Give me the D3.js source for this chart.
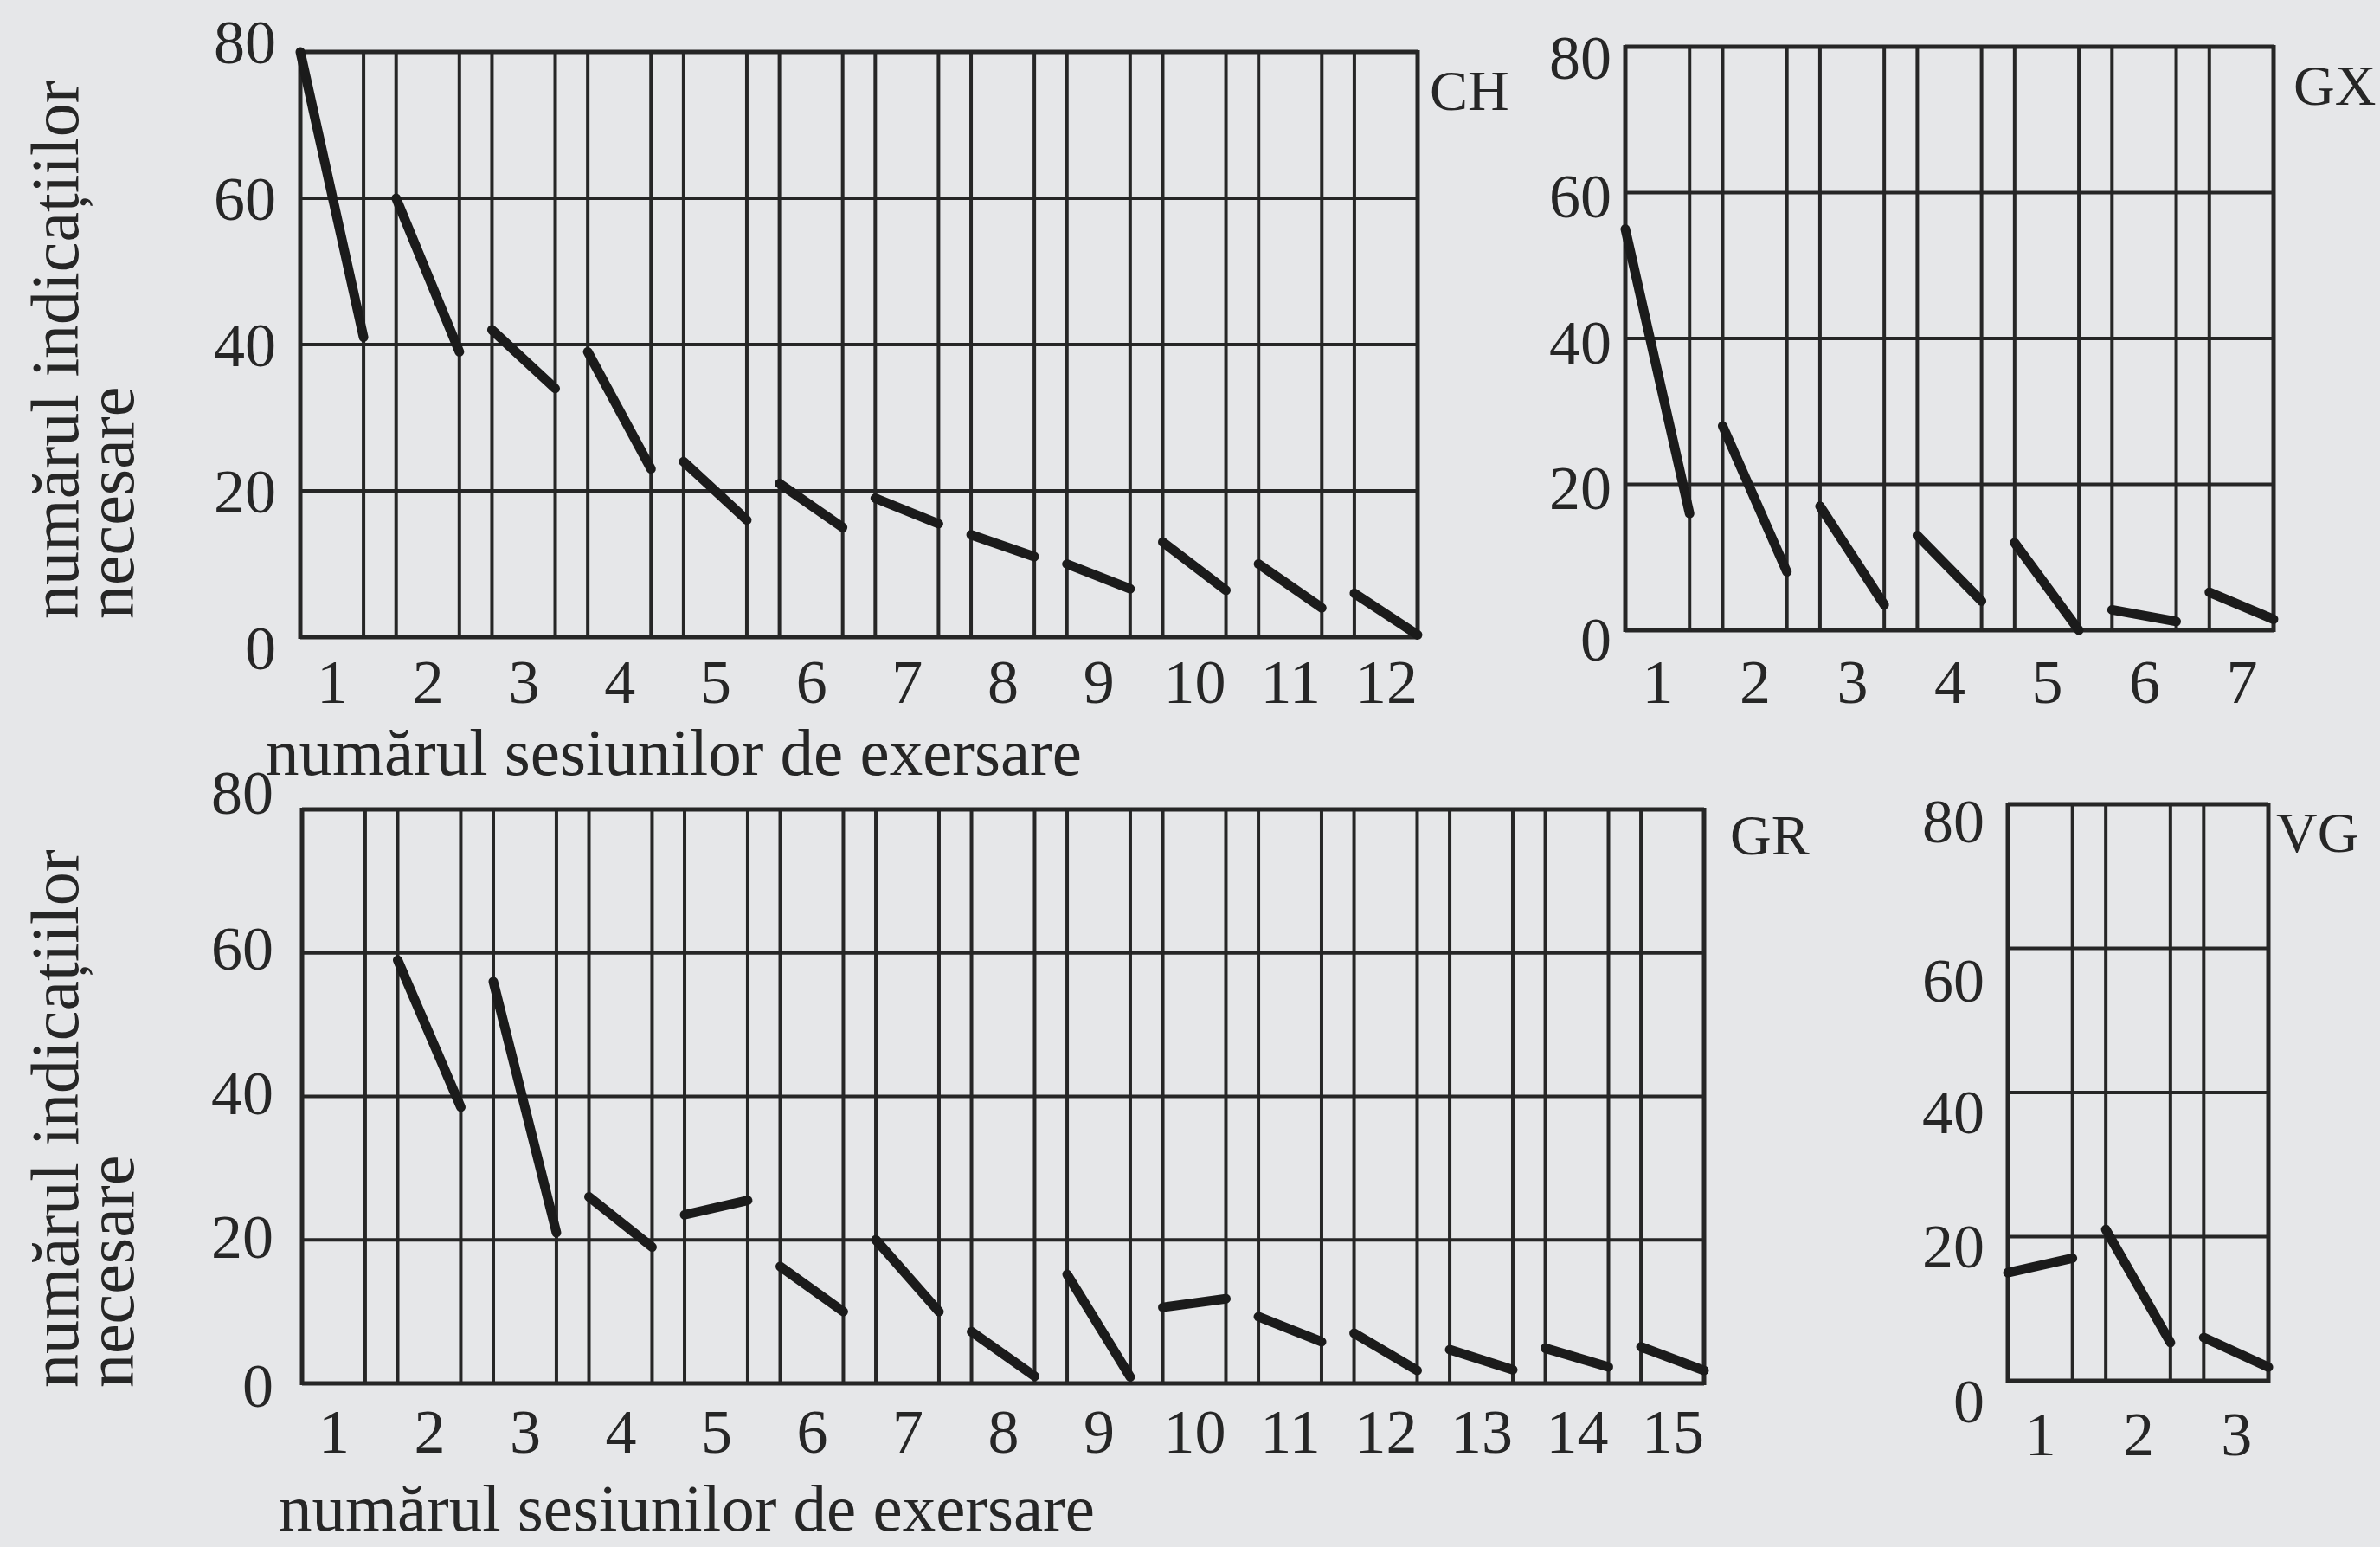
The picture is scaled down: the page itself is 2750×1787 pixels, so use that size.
<!DOCTYPE html>
<html>
<head>
<meta charset="utf-8">
<script src="https://cdn.jsdelivr.net/npm/d3@7"></script>
<style>
  html, body { margin: 0; padding: 0; background: #e6e7e9; }
  svg { display: block; }
</style>
</head>
<body>
<svg id="chart" width="2750" height="1787"></svg>
<script>
// ---------------- DATA ----------------
const yTickValues = [0, 20, 40, 60, 80];

const chSessions = ["1","2","3","4","5","6","7","8","9","10","11","12"];
const chStart = [80, 60, 42, 39, 24, 21, 19, 14, 10, 13, 10, 6];
const chEnd   = [41, 39, 34, 23, 16, 15, 15.5, 11, 6.6, 6.4, 4, 0.3];

const gxSessions = ["1","2","3","4","5","6","7"];
const gxStart = [55, 28, 17, 13, 12, 2.8, 5.2];
const gxEnd   = [16, 8, 3.5, 4, 0, 1.2, 1.5];

const grSessions = ["1","2","3","4","5","6","7","8","9","10","11","12","13","14","15"];
const grStart = [null, 59, 56, 26, 23.5, 16.3, 20, 7.2, 15.2, 10.6, 9.3, 7, 4.7, 4.9, 5.1];
const grEnd   = [null, 38.5, 21, 19, 25.5, 10, 10, 1, 0.9, 11.8, 5.8, 1.8, 1.9, 2.3, 1.8];

const vgSessions = ["1","2","3"];
const vgStart = [15, 21, 6];
const vgEnd   = [17, 5.3, 1.9];

const yTitleLine1 = "numărul indicațiilor";
const yTitleLine2 = "necesare";
const xTitle = "numărul sesiunilor de exersare";

// ---------------- LAYOUT ----------------
const W = 0.66; // fraction of a session slot occupied by the session column
const FONT = "'Liberation Serif', 'Times New Roman', serif";
const INK = "#262626";

const panels = [
  {name: "CH", sessions: chSessions, start: chStart, end: chEnd,
   left: 347, right: 1638, top: 60, bottom: 736, labelX: 1652, labelY: 127, tickGap: 28, tickShift: [12, 0, 0, 0, -12], xLab: 76},
  {name: "GX", sessions: gxSessions, start: gxStart, end: gxEnd,
   left: 1878, right: 2627, top: 54, bottom: 728, labelX: 2650, labelY: 121, tickGap: 16, tickShift: [10, 4, 4, 4, 12], xLab: 84},
  {name: "GR", sessions: grSessions, start: grStart, end: grEnd,
   left: 349, right: 1969, top: 935, bottom: 1598, labelX: 1999, labelY: 987, tickGap: 33, tickShift: [2, -4, -4, -6, -20], xLab: 80},
  {name: "VG", sessions: vgSessions, start: vgStart, end: vgEnd,
   left: 2320, right: 2621, top: 929, bottom: 1595, labelX: 2630, labelY: 984, tickGap: 27, tickShift: [23, 11, 22, 37, 19], xLab: 86}
];

const svg = d3.select("#chart");

panels.forEach(p => {
  const n = p.sessions.length;
  const x = d3.scaleLinear().domain([0, n - 1 + W]).range([p.left, p.right]);
  const y = d3.scaleLinear().domain([0, 80]).range([p.bottom, p.top]);
  const g = svg.append("g");

  // horizontal grid lines
  g.selectAll("line.h").data(yTickValues).enter().append("line")
    .attr("x1", x(0)).attr("x2", x(n - 1 + W))
    .attr("y1", d => y(d)).attr("y2", d => y(d))
    .attr("stroke", INK).attr("stroke-width", d => (d === 0 || d === 80) ? 5 : 4);

  // vertical session boundary lines
  const verts = [];
  for (let i = 0; i < n; i++) { verts.push(i); verts.push(i + W); }
  g.selectAll("line.v").data(verts).enter().append("line")
    .attr("x1", d => x(d)).attr("x2", d => x(d))
    .attr("y1", y(80) - 2).attr("y2", y(0) + 2)
    .attr("stroke", INK)
    .attr("stroke-width", (d, i) => (i === 0 || i === verts.length - 1) ? 5 : 4);

  // data segments
  const segs = p.start.map((s, i) => ({i, s, e: p.end[i]})).filter(d => d.s !== null);
  g.selectAll("line.seg").data(segs).enter().append("line")
    .attr("x1", d => x(d.i)).attr("y1", d => y(d.s))
    .attr("x2", d => x(d.i + W)).attr("y2", d => y(d.e))
    .attr("stroke", "#1b1b1b").attr("stroke-width", 11)
    .attr("stroke-linecap", "round");

  // y axis labels
  const yAxis = d3.axisLeft(y).tickValues(yTickValues).tickSize(0).tickPadding(p.tickGap)
    .tickFormat(d3.format("d"));
  const ya = g.append("g").attr("transform", `translate(${p.left},0)`).call(yAxis);
  ya.select(".domain").remove();
  ya.selectAll("text").attr("font-family", FONT).attr("font-size", 72).attr("fill", INK)
    .attr("dy", "0.34em")
    .attr("y", (d, i) => p.tickShift[i]);

  // x axis labels (session numbers, centred under each session column)
  const xAxis = d3.axisBottom(x).tickValues(d3.range(n).map(i => i + W / 2)).tickSize(0)
    .tickPadding(0).tickFormat((d, i) => p.sessions[i]);
  const xa = g.append("g").attr("transform", `translate(0,${p.bottom + p.xLab})`).call(xAxis);
  xa.select(".domain").remove();
  xa.selectAll("text").attr("font-family", FONT).attr("font-size", 72).attr("fill", INK)
    .attr("y", 0).attr("dy", 0);

  // panel name
  g.append("text").attr("x", p.labelX).attr("y", p.labelY)
    .attr("font-family", FONT).attr("font-size", 66).attr("fill", INK).text(p.name);
});

// axis titles
[{y: 895, x: 307}, {y: 1768, x: 322}].forEach(t => {
  svg.append("text").attr("x", t.x).attr("y", t.y)
    .attr("font-family", FONT).attr("font-size", 77).attr("fill", INK).text(xTitle);
});

[{y: 715}, {y: 1603}].forEach(t => {
  svg.append("text").attr("transform", `translate(90,${t.y}) rotate(-90)`)
    .attr("font-family", FONT).attr("font-size", 78).attr("fill", INK).text(yTitleLine1);
  svg.append("text").attr("transform", `translate(154,${t.y}) rotate(-90)`)
    .attr("font-family", FONT).attr("font-size", 78).attr("fill", INK).text(yTitleLine2);
});
</script>
</body>
</html>
